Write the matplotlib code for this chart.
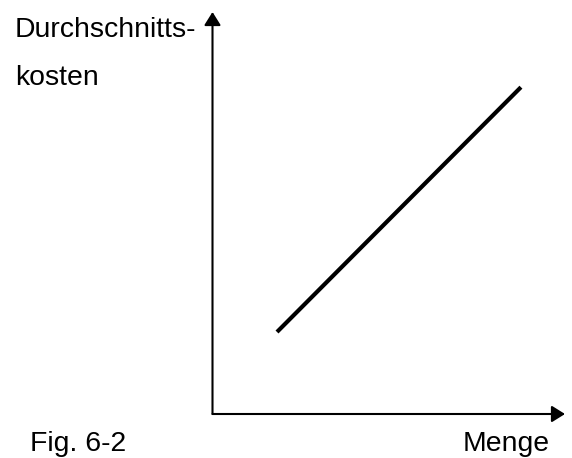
import matplotlib
matplotlib.use("Agg")
import matplotlib.pyplot as plt

# Data (abstract units, axes run 0..10)
menge = [1.83, 8.75]
durchschnittskosten = [2.04, 8.13]
y_label_lines = ["Durchschnitts-", "kosten"]
x_label = "Menge"
fig_label = "Fig. 6-2"

W, H = 572, 458
fig = plt.figure(figsize=(W / 100, H / 100), dpi=100)
plt.rcParams['font.family'] = ['Liberation Sans', 'DejaVu Sans']

ax = fig.add_axes([212.5 / W, (H - 414) / H, (565 - 212.5) / W, (414 - 12) / H])
ax.set_xlim(0, 10)
ax.set_ylim(0, 10)
ax.axis('off')

arrow = dict(arrowstyle='-|>,head_length=0.8,head_width=0.5', lw=1.5,
             color='black', mutation_scale=10, shrinkA=0, shrinkB=0)
ax.annotate('', xy=(0, 10), xytext=(0, 0), arrowprops=arrow, annotation_clip=False)
ax.annotate('', xy=(10, 0), xytext=(0, 0), arrowprops=arrow, annotation_clip=False)

ax.plot(menge, durchschnittskosten, color='black', lw=3, solid_capstyle='butt')

fs = 20.4
fig.text(15 / W, 1 - 37 / H, y_label_lines[0], fontsize=fs, va='baseline', ha='left')
fig.text(15 / W, 1 - 85 / H, y_label_lines[1], fontsize=fs, va='baseline', ha='left')
fig.text(30 / W, 1 - 451 / H, fig_label, fontsize=fs, va='baseline', ha='left')
fig.text(463 / W, 1 - 451 / H, x_label, fontsize=fs, va='baseline', ha='left')

fig.savefig('out.png', dpi=100, facecolor='white')
